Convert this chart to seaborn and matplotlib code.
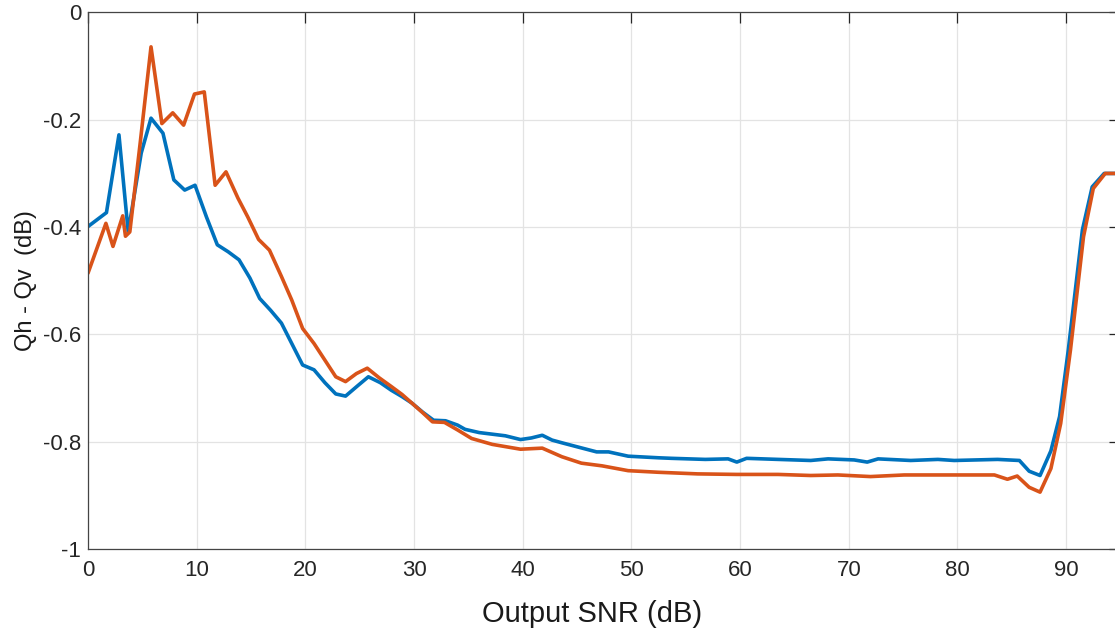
import numpy as np
import pandas as pd
import matplotlib
matplotlib.use("Agg")
import matplotlib.pyplot as plt
import seaborn as sns

# values
snr_h = [0, 1.7, 2.85, 3.7, 4.9, 5.8, 6.9, 7.9, 8.9, 9.85, 10.9, 11.9, 12.9, 13.9, 14.9,
         15.8, 16.8, 17.8, 18.8, 19.75, 20.8, 21.8, 22.8, 23.7, 24.8, 25.8, 26.9, 27.9,
         28.9, 29.8, 30.8, 31.8, 32.9, 34.0, 34.7, 36.0, 37.2, 38.4, 39.8, 40.8, 41.8,
         42.7, 43.6, 45.1, 46.8, 47.9, 49.7, 52.5, 53.7, 56.8, 58.9, 59.7, 60.6, 63.5,
         66.5, 68.1, 70.5, 71.7, 72.7, 75.7, 78.2, 79.7, 83.7, 85.7, 86.6, 87.6, 88.6,
         89.4, 90.2, 91.5, 92.4, 93.5, 95]
q_h = [-0.399, -0.373, -0.228, -0.409, -0.262, -0.197, -0.225, -0.312, -0.331, -0.322,
       -0.381, -0.433, -0.446, -0.461, -0.495, -0.533, -0.555, -0.579, -0.619, -0.657,
       -0.666, -0.690, -0.711, -0.715, -0.696, -0.679, -0.690, -0.704, -0.716, -0.728,
       -0.745, -0.760, -0.761, -0.769, -0.777, -0.783, -0.786, -0.789, -0.796, -0.793,
       -0.788, -0.797, -0.802, -0.810, -0.819, -0.819, -0.827, -0.830, -0.831, -0.833,
       -0.832, -0.838, -0.831, -0.833, -0.835, -0.832, -0.834, -0.838, -0.832, -0.835,
       -0.833, -0.835, -0.833, -0.835, -0.855, -0.863, -0.817, -0.753, -0.629, -0.405,
       -0.325, -0.300, -0.300]

snr_v = [0, 1.65, 2.3, 3.2, 3.45, 3.85, 4.8, 5.8, 6.8, 7.8, 8.8, 9.8, 10.7, 11.7, 12.7,
         13.8, 14.7, 15.7, 16.7, 17.8, 18.75, 19.75, 20.8, 21.8, 22.8, 23.7, 24.7, 25.7,
         26.8, 27.9, 28.9, 29.8, 30.8, 31.7, 32.8, 34.0, 35.3, 37.2, 39.8, 41.8, 43.6,
         45.4, 47.3, 49.7, 52.5, 56.1, 59.7, 63.5, 66.5, 69.0, 72.0, 75.1, 79.7, 83.4,
         84.6, 85.5, 86.6, 87.6, 88.6, 89.5, 90.4, 91.6, 92.5, 93.6, 95]
q_v = [-0.486, -0.393, -0.436, -0.379, -0.417, -0.409, -0.244, -0.064, -0.207, -0.187,
       -0.210, -0.152, -0.148, -0.322, -0.297, -0.346, -0.381, -0.423, -0.443, -0.492,
       -0.536, -0.589, -0.617, -0.648, -0.679, -0.688, -0.673, -0.663, -0.681, -0.697,
       -0.712, -0.728, -0.746, -0.763, -0.764, -0.778, -0.794, -0.805, -0.814, -0.812,
       -0.828, -0.840, -0.845, -0.854, -0.857, -0.860, -0.861, -0.861, -0.863, -0.862,
       -0.865, -0.862, -0.862, -0.862, -0.870, -0.864, -0.885, -0.894, -0.850, -0.766,
       -0.629, -0.418, -0.328, -0.300, -0.300]

x_ticks = [0, 10, 20, 30, 40, 50, 60, 70, 80, 90]
y_ticks = [-1, -0.8, -0.6, -0.4, -0.2, 0]
y_tick_labels = ['-1', '-0.8', '-0.6', '-0.4', '-0.2', '0']

sns.set_style("white")
plt.rcParams['font.family'] = ['Liberation Sans', 'DejaVu Sans']
plt.rcParams['axes.unicode_minus'] = False

fig = plt.figure(figsize=(11.15, 6.28), dpi=100)
ax = fig.add_axes([0.0789, 0.1258, 0.926, 0.8543])

df_h = pd.DataFrame({'snr': snr_h, 'q': q_h})
df_v = pd.DataFrame({'snr': snr_v, 'q': q_v})
sns.lineplot(data=df_h, x='snr', y='q', ax=ax, color='#0072BD', linewidth=2.6,
             sort=False, estimator=None)
sns.lineplot(data=df_v, x='snr', y='q', ax=ax, color='#D95319', linewidth=2.6,
             sort=False, estimator=None)

ax.set_xlim(0, 95)
ax.set_ylim(-1, 0)
ax.set_xticks(x_ticks)
ax.set_yticks(y_ticks)
ax.set_yticklabels(y_tick_labels)
ax.grid(True, color='#e3e3e3', linewidth=0.9)
ax.set_axisbelow(True)
ax.tick_params(direction='in', length=8, width=0.9, colors='#262626', labelsize=16,
               top=True, right=True)
ax.tick_params(axis='x', pad=8)
ax.tick_params(axis='y', pad=5)
for s in ax.spines.values():
    s.set_color('#444444')
    s.set_linewidth(0.9)

ax.set_xlabel('Output SNR (dB)', fontsize=21, color='#1a1a1a', labelpad=10)
ax.xaxis.set_label_coords(0.488, -0.095)
ax.set_ylabel('Qh - Qv  (dB)', fontsize=17, color='#1a1a1a', labelpad=4)

fig.savefig('out.png', dpi=100)
